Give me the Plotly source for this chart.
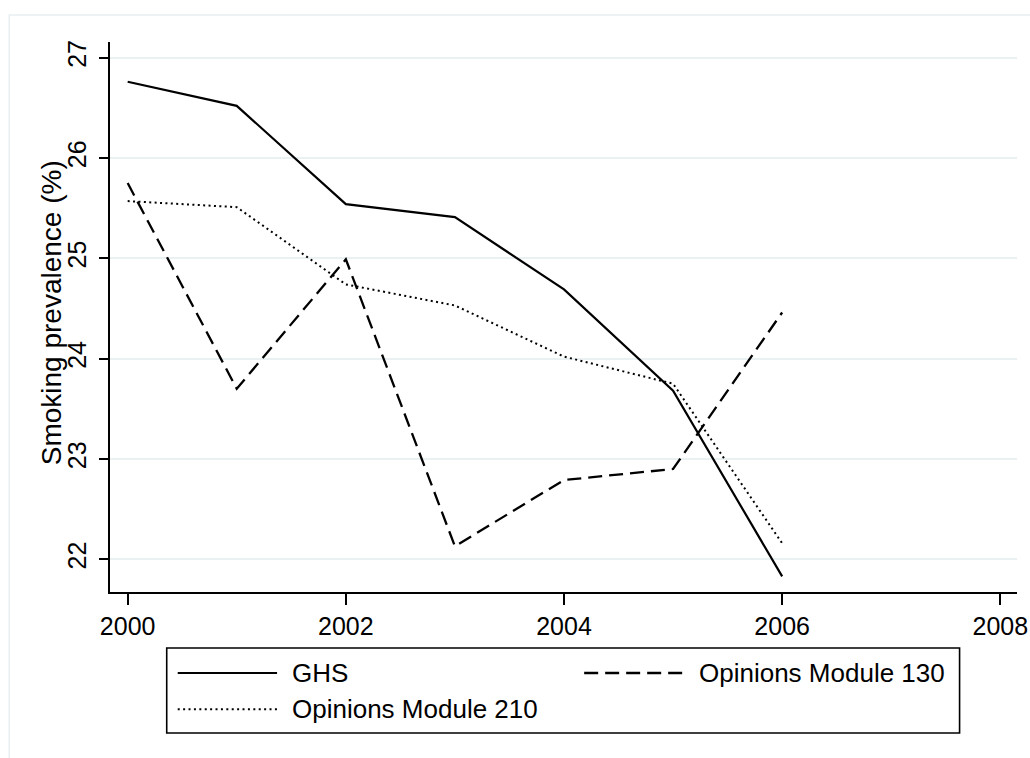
import plotly.graph_objects as go

years = [2000, 2001, 2002, 2003, 2004, 2005, 2006]
ghs = [26.76, 26.52, 25.54, 25.41, 24.69, 23.68, 21.83]
om130 = [25.75, 23.70, 24.99, 22.13, 22.79, 22.90, 24.46]
om210 = [25.57, 25.51, 24.74, 24.53, 24.02, 23.75, 22.16]
series_names = ["GHS", "Opinions Module 130", "Opinions Module 210"]
x_ticks = [2000, 2002, 2004, 2006, 2008]
y_ticks = [22, 23, 24, 25, 26, 27]

W, H = 1030, 758
L, R, T = 110, 13.3, 41.7
PH = 550.0
B = H - T - PH
PW = W - L - R

def px(x):
    return (x - L) / PW

def py(y):
    return (H - B - y) / PH

FONT = "Liberation Sans, Arial, sans-serif"
styles = [
    dict(color="black", width=2.2, dash="solid"),
    dict(color="black", width=2.3, dash="14px,7px"),
    dict(color="black", width=2.0, dash="2px,3.4px"),
]

fig = go.Figure()
for name, vals, st in zip(series_names, [ghs, om130, om210], styles):
    fig.add_trace(go.Scatter(x=years, y=vals, mode="lines", name=name,
                             line=st, showlegend=False, hoverinfo="skip"))

fig.update_layout(
    width=W, height=H,
    margin=dict(l=L, r=R, t=T, b=B, autoexpand=False),
    paper_bgcolor="white", plot_bgcolor="white",
    font=dict(family=FONT, size=25, color="black"),
    xaxis=dict(range=[1999.838, 2008.153], tickvals=x_ticks, showgrid=False,
               showline=True, linecolor="black", linewidth=1.6,
               ticks="outside", ticklen=11, tickwidth=1.6, tickcolor="black",
               zeroline=False, tickfont=dict(size=25)),
    yaxis=dict(range=[21.674, 27.156], tickvals=y_ticks, showgrid=True,
               gridcolor="#eaf1f3", gridwidth=2,
               showline=True, linecolor="black", linewidth=1.6,
               ticks="outside", ticklen=9, tickwidth=1.6, tickcolor="black",
               zeroline=False, tickangle=-90, tickfont=dict(size=25),
               ticklabelstandoff=3),
)

# outer frame (light)
fig.add_shape(type="rect", xref="paper", yref="paper",
              x0=px(9.3), x1=px(1040), y0=py(14.7), y1=py(770),
              line=dict(color="#e8eff1", width=1.5), layer="below")

# y axis title
fig.add_annotation(text="Smoking prevalence (%)", xref="paper", yref="paper",
                   x=px(51), y=py(312), textangle=-90, showarrow=False,
                   xanchor="center", yanchor="middle",
                   font=dict(family=FONT, size=28, color="black"))

# legend box
fig.add_shape(type="rect", xref="paper", yref="paper",
              x0=px(166.7), x1=px(959.3), y0=py(647.7), y1=py(732.7),
              line=dict(color="black", width=1.6), fillcolor="white")

legend_pos = [(177.7, 277, 290, 672.7), (584, 683, 697, 672.7), (177.7, 277, 290, 709)]
for name, st, (sx0, sx1, tx, yy) in zip(series_names, styles, legend_pos):
    fig.add_shape(type="line", xref="paper", yref="paper",
                  x0=px(sx0), x1=px(sx1), y0=py(yy), y1=py(yy),
                  line=dict(color="black", width=st["width"], dash=st["dash"]))
    fig.add_annotation(text=name, xref="paper", yref="paper",
                       x=px(tx), y=py(yy), showarrow=False,
                       xanchor="left", yanchor="middle",
                       font=dict(family=FONT, size=26, color="black"))

fig.write_html("out.html", config={"displayModeBar": False},
               post_script="document.body.style.margin='0';document.body.style.overflow='hidden';")
